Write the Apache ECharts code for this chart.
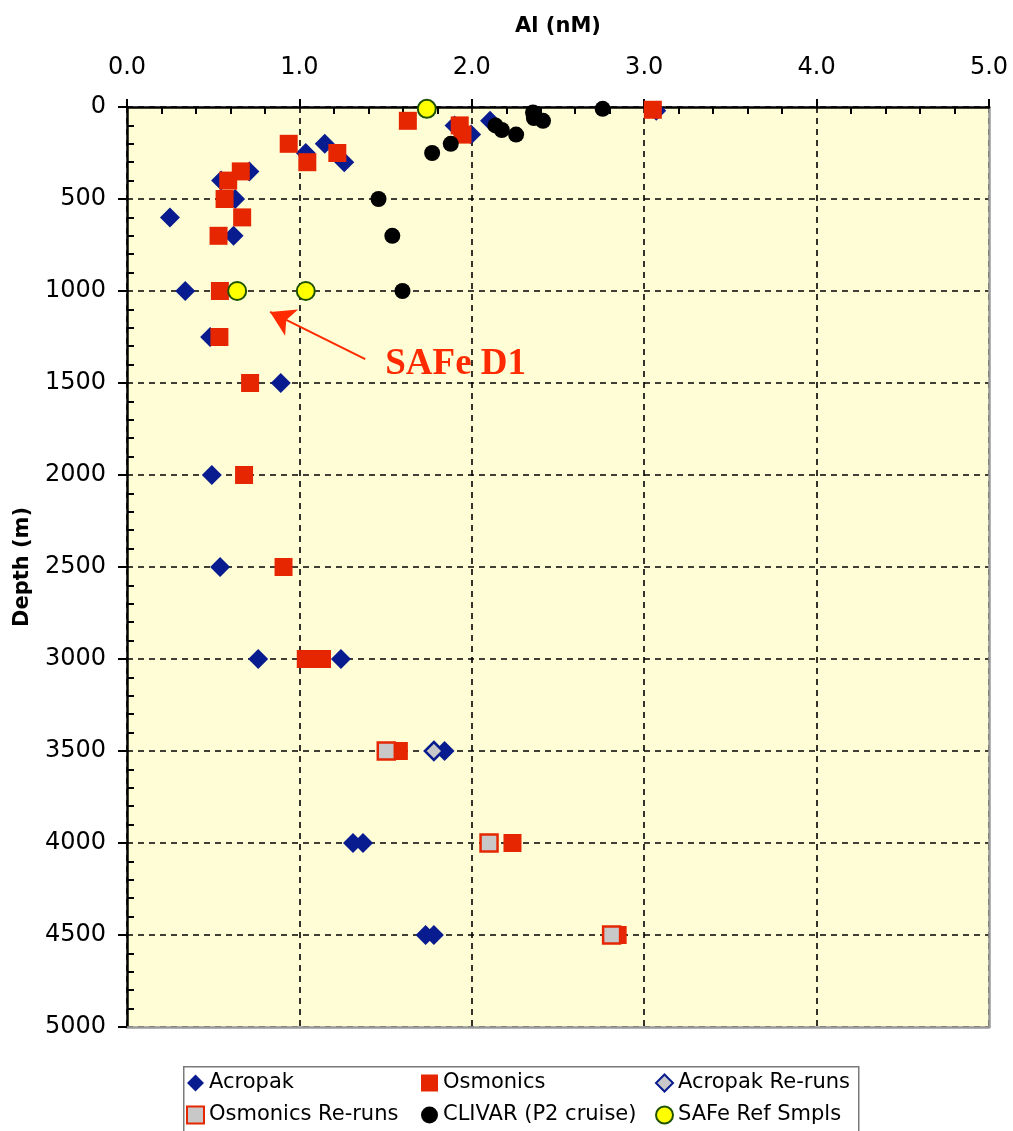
<!DOCTYPE html>
<html>
<head>
<meta charset="utf-8">
<script src="https://cdn.jsdelivr.net/npm/echarts@6/dist/echarts.min.js"></script>
<style>
html,body{margin:0;padding:0;background:#fff;}
#chart{width:1013px;height:1131px;}
</style>
</head>
<body>
<div id="chart"></div>
<script>
// ---- data: [Al (nM), depth (m)] ----
const acropak = [
  [3.07,20],[2.106,75],[1.90,100],[1.996,150],[1.147,200],[1.037,250],[1.26,300],
  [0.71,350],[0.546,400],[0.627,500],[0.249,600],[0.618,700],[0.338,1000],
  [0.482,1250],[0.892,1500],[0.492,2000],[0.540,2500],[0.761,3000],[1.241,3000],
  [1.842,3500],[1.311,4000],[1.369,4000],[1.732,4500],[1.78,4500]
];
const osmonics = [
  [3.05,15],[1.629,75],[1.93,100],[1.946,150],[0.938,200],[1.22,250],[1.046,300],
  [0.66,350],[0.587,400],[0.566,500],[0.668,600],[0.531,700],[0.539,1000],
  [0.536,1250],[0.714,1500],[0.679,2000],[0.908,2500],[1.037,3000],[1.131,3000],
  [1.577,3500],[2.236,4000],[2.846,4500]
];
const acropakReruns = [[1.78,3500]];
const osmonicsReruns = [[1.504,3500],[2.10,4000],[2.811,4500]];
const clivar = [
  [2.759,10],[2.355,30],[2.36,60],[2.413,75],[2.137,100],[2.174,125],[2.257,150],
  [1.878,200],[1.77,250],[1.459,500],[1.539,700],[1.598,1000]
];
const safeRef = [[1.739,10],[0.639,1000],[1.037,1000]];
const xTicks = [0,1,2,3,4,5];
const yTicks = [0,500,1000,1500,2000,2500,3000,3500,4000,4500,5000];
const annotationArrow = [[1.382,1370],[0.830,1114]];
const annotationText = {label:'SAFe D1', at:[1.498,1400]};

const FONT = "'DejaVu Sans', Verdana, sans-serif";
const chart = echarts.init(document.getElementById('chart'), null, {renderer:'canvas'});

const legendText = {fontFamily:FONT, fontSize:21, color:'#000', lineHeight:22};
function legendCol(left, items){
  return {orient:'vertical', left:left, top:1072, padding:0, itemGap:10,
    itemWidth:17, itemHeight:17, textStyle:legendText, data:items, selectedMode:false};
}

chart.setOption({
  animation:false,
  backgroundColor:'#fff',
  grid:{left:127, right:24, top:107, bottom:104, show:true, backgroundColor:'#FFFDD5', borderWidth:0},
  xAxis:[{
    type:'value', position:'top', min:xTicks[0], max:xTicks[xTicks.length-1], interval:1,
    name:'Al (nM)', nameLocation:'middle', nameGap:70,
    nameTextStyle:{fontFamily:FONT, fontSize:21, fontWeight:'bold', color:'#000'},
    axisLine:{show:true, onZero:false, lineStyle:{color:'#000', width:2.5}},
    axisTick:{show:true, inside:false, length:8, lineStyle:{color:'#000', width:2}},
    minorTick:{show:true, splitNumber:5, length:-7, lineStyle:{color:'#000', width:2}},
    axisLabel:{fontFamily:FONT, fontSize:24, color:'#000', margin:27, formatter:v=>v.toFixed(1)},
    splitLine:{show:true, lineStyle:{color:'#000', width:1.6, type:[6,5]}}
  },{
    type:'value', position:'bottom', min:0, max:5, interval:1,
    axisLine:{show:true, onZero:false, lineStyle:{color:'#9a9a9a', width:2.5}},
    axisTick:{show:false}, axisLabel:{show:false}, splitLine:{show:false}
  }],
  yAxis:[{
    type:'value', inverse:true, min:yTicks[0], max:yTicks[yTicks.length-1], interval:500,
    name:'Depth (m)', nameLocation:'middle', nameGap:94,
    nameTextStyle:{fontFamily:FONT, fontSize:21, fontWeight:'bold', color:'#000'},
    axisLine:{show:true, onZero:false, lineStyle:{color:'#000', width:2.5}},
    axisTick:{show:true, inside:false, length:9, lineStyle:{color:'#000', width:2}},
    minorTick:{show:true, splitNumber:5, length:-7, lineStyle:{color:'#000', width:2}},
    axisLabel:{fontFamily:FONT, fontSize:24, color:'#000', margin:21, formatter:v=>String(v)},
    splitLine:{show:true, lineStyle:{color:'#000', width:1.6, type:[6,5]}}
  },{
    type:'value', position:'right', inverse:true, min:0, max:5000, interval:500,
    axisLine:{show:true, onZero:false, lineStyle:{color:'#9a9a9a', width:2.5}},
    axisTick:{show:false}, axisLabel:{show:false}, splitLine:{show:false}
  }],
  legend:[
    legendCol(186, ['Acropak','Osmonics Re-runs']),
    legendCol(421, ['Osmonics','CLIVAR (P2 cruise)']),
    legendCol(655, ['Acropak Re-runs','SAFe Ref Smpls'])
  ],
  graphic:[{
    type:'rect', left:183, top:1066, z:-1,
    shape:{width:675, height:90},
    style:{fill:'#fff', stroke:'#7a7a7a', lineWidth:1.5}
  }],
  series:[
    {name:'Acropak', type:'scatter', symbol:'diamond', symbolSize:[20,20], data:acropak,
     itemStyle:{color:'#081C8F', opacity:1}},
    {name:'Osmonics', type:'scatter', symbol:'rect', symbolSize:18, data:osmonics,
     itemStyle:{color:'#E52600', opacity:1}},
    {name:'Acropak Re-runs', type:'scatter', symbol:'diamond', symbolSize:[18,18], data:acropakReruns,
     itemStyle:{color:'#C8C8C8', borderColor:'#081C8F', borderWidth:2.5, opacity:1}},
    {name:'Osmonics Re-runs', type:'scatter', symbol:'rect', symbolSize:17, data:osmonicsReruns,
     itemStyle:{color:'#C8C8C8', borderColor:'#E52600', borderWidth:2.5, opacity:1}},
    {name:'CLIVAR (P2 cruise)', type:'scatter', symbol:'circle', symbolSize:16, data:clivar,
     itemStyle:{color:'#000', opacity:1}},
    {name:'SAFe Ref Smpls', type:'scatter', symbol:'circle', symbolSize:18, data:safeRef,
     itemStyle:{color:'#FFFF00', borderColor:'#1F5200', borderWidth:2, opacity:1}},
    {name:'annotation', type:'scatter', data:[], silent:true,
     markLine:{silent:true, symbol:['none','arrow'], symbolSize:[22,24],
       lineStyle:{color:'#FF2A00', width:2, type:'solid'}, label:{show:false},
       itemStyle:{color:'#FF2A00'},
       data:[[{coord:annotationArrow[0]},{coord:annotationArrow[1]}]]},
     markPoint:{silent:true, symbol:'circle', symbolSize:0,
       label:{show:true, position:'right', distance:0, formatter:annotationText.label,
         fontFamily:"'Liberation Serif', 'Times New Roman', serif", fontWeight:'bold', fontSize:37, color:'#FF2A00'},
       data:[{coord:annotationText.at}]}}
  ]
});
</script>
</body>
</html>
